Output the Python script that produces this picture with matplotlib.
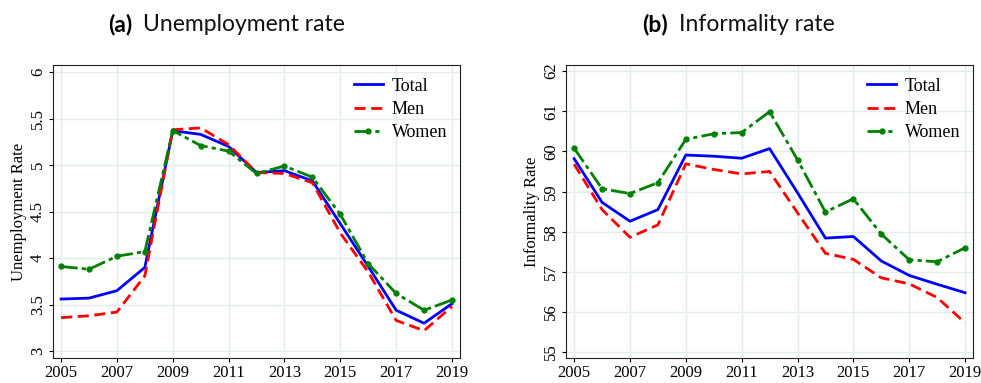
import matplotlib
matplotlib.use('Agg')
from matplotlib import pyplot as plt

years = list(range(2005, 2020))

# Unemployment rate (%)
unemp_total = [3.56, 3.57, 3.65, 3.90, 5.37, 5.33, 5.20, 4.92, 4.94, 4.83, 4.37, 3.91, 3.44, 3.30, 3.51]
unemp_men = [3.36, 3.38, 3.42, 3.81, 5.38, 5.40, 5.22, 4.92, 4.91, 4.81, 4.27, 3.85, 3.33, 3.22, 3.48]
unemp_women = [3.91, 3.88, 4.02, 4.07, 5.37, 5.21, 5.15, 4.91, 4.99, 4.87, 4.47, 3.94, 3.62, 3.44, 3.55]

# Informality rate (%)
inf_total = [59.82, 58.73, 58.26, 58.55, 59.91, 59.88, 59.83, 60.07, 58.97, 57.84, 57.88, 57.27, 56.91, 56.69, 56.48]
inf_men = [59.68, 58.55, 57.86, 58.17, 59.69, 59.55, 59.44, 59.50, 58.47, 57.46, 57.31, 56.85, 56.70, 56.36, 55.73]
inf_women = [60.08, 59.07, 58.95, 59.22, 60.30, 60.44, 60.47, 60.99, 59.79, 58.49, 58.82, 57.94, 57.30, 57.25, 57.60]

x_ticks = list(range(2005, 2020, 2))
unemp_ticks = [3, 3.5, 4, 4.5, 5, 5.5, 6]
inf_ticks = [55, 56, 57, 58, 59, 60, 61, 62]

plt.rcParams['font.family'] = ['Liberation Serif', 'DejaVu Serif']

fig = plt.figure(figsize=(9.81, 3.83), dpi=100)
ax1 = fig.add_axes([0.054, 0.065, 0.415, 0.765])
ax2 = fig.add_axes([0.577, 0.065, 0.415, 0.765])


def draw(ax, total, men, women, yticks, ylim, ylabel):
    ax.plot(years, total, color='blue', lw=2, label='Total')
    ax.plot(years, men, color='red', lw=2, ls=(0, (4, 2)), label='Men')
    ax.plot(years, women, color='green', lw=2, ls=(0, (6, 1.5, 1.5, 1.5)),
            marker='o', ms=3.5, label='Women')
    ax.set_xlim(2004.71, 2019.29)
    ax.set_ylim(*ylim)
    ax.set_xticks(x_ticks)
    ax.set_yticks(yticks)
    ax.set_yticklabels([('%g' % t) for t in yticks], rotation=90, va='center')
    ax.tick_params(labelsize=12, direction='out', length=3, pad=2)
    ax.grid(True, color='#e3ecee', lw=1)
    ax.set_axisbelow(True)
    ax.set_ylabel(ylabel, fontsize=12, labelpad=2)
    for s in ax.spines.values():
        s.set_color('#222222')
    ax.legend(loc='upper right', frameon=False, fontsize=13,
              handlelength=1.6, handletextpad=0.5, labelspacing=0.35,
              borderaxespad=0.3)


draw(ax1, unemp_total, unemp_men, unemp_women, unemp_ticks, (2.925, 6.075), 'Unemployment Rate')
draw(ax2, inf_total, inf_men, inf_women, inf_ticks, (54.85, 62.15), 'Informality Rate')

# panel titles: bold letter, plain text
tfam = ['Lato', 'DejaVu Sans']
fig.text(0.110, 0.935, '(a)', fontsize=16.5, family=tfam, fontweight='bold', ha='left', va='center')
fig.text(0.146, 0.935, 'Unemployment rate', fontsize=16.5, family=tfam, color='#111111', ha='left', va='center')
fig.text(0.655, 0.935, '(b)', fontsize=16.5, family=tfam, fontweight='bold', ha='left', va='center')
fig.text(0.692, 0.935, 'Informality rate', fontsize=16.5, family=tfam, color='#111111', ha='left', va='center')

fig.savefig('out.png', dpi=100)
